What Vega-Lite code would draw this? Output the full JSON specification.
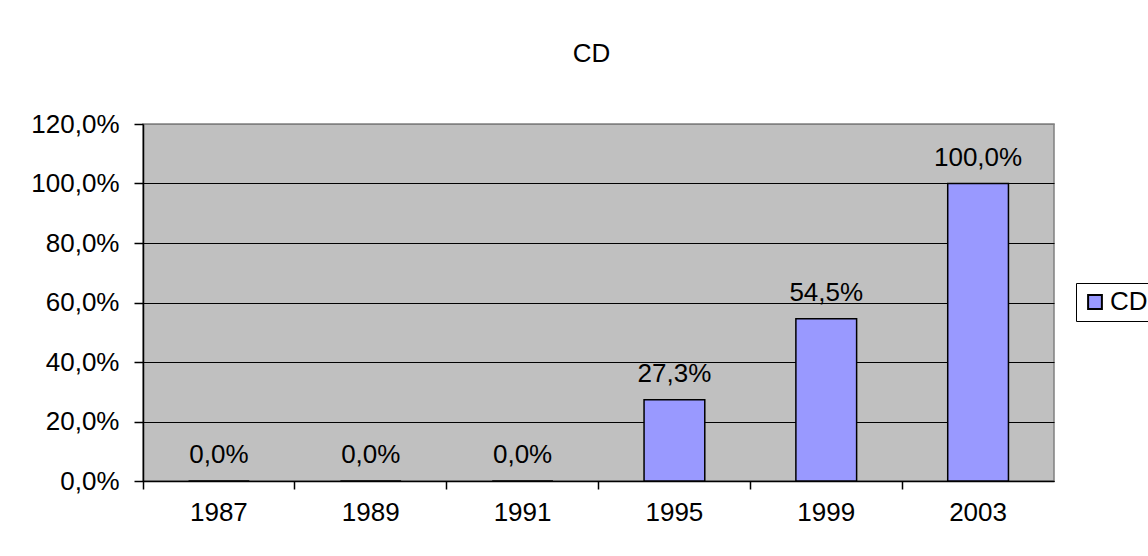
{
  "$schema": "https://vega.github.io/schema/vega-lite/v6.json",
  "width": 911,
  "height": 357,
  "autosize": "none",
  "padding": {"left": 143, "top": 124, "right": 94, "bottom": 75},
  "background": "white",
  "title": {"text": "CD", "fontSize": 26, "font": "Liberation Sans", "fontWeight": "normal", "color": "black", "anchor": "middle", "dx": -7, "offset": 44, "frame": "group"},
  "config": {
    "locale": {"number": {"decimal": ",", "thousands": ".", "grouping": [3], "currency": ["", " €"]}},
    "view": {"fill": "#C0C0C0", "stroke": "#808080", "strokeWidth": 1.5},
    "font": "Liberation Sans"
  },
  "data": {"values": [
    {"year": "1987", "value": 0, "series": "CD"},
    {"year": "1989", "value": 0, "series": "CD"},
    {"year": "1991", "value": 0, "series": "CD"},
    {"year": "1995", "value": 0.273, "series": "CD"},
    {"year": "1999", "value": 0.545, "series": "CD"},
    {"year": "2003", "value": 1.0, "series": "CD"}
  ]},
  "encoding": {
    "x": {"field": "year", "type": "nominal", "sort": null,
      "scale": {"paddingInner": 0, "paddingOuter": 0},
      "axis": {"title": null, "labelAngle": 0, "labelFontSize": 26, "labelColor": "black", "labelFont": "Liberation Sans",
        "bandPosition": 0, "tickSize": 8, "tickColor": "black", "tickWidth": 1.5, "domainColor": "black", "domainWidth": 1.5,
        "labelPadding": 10, "grid": false}},
    "y": {"field": "value", "type": "quantitative",
      "scale": {"domain": [0, 1.2], "nice": false},
      "axis": {"title": null, "values": [0, 0.2, 0.4, 0.6, 0.8, 1.0, 1.2], "format": ".1%",
        "labelFontSize": 26, "labelColor": "black", "labelFont": "Liberation Sans", "labelPadding": 15,
        "tickSize": 9, "tickColor": "black", "tickWidth": 1.5, "domainColor": "black", "domainWidth": 1.5,
        "grid": true, "gridWidth": 1.2,
        "gridColor": {"condition": {"test": "datum.value >= 1.2", "value": "#808080"}, "value": "black"}}}
  },
  "layer": [
    {
      "mark": {"type": "bar", "width": {"band": 0.4}, "stroke": "black", "strokeWidth": 1.5},
      "encoding": {
        "color": {"field": "series", "type": "nominal", "scale": {"range": ["#9999FF"]},
          "legend": {"title": null, "orient": "none", "legendX": 933, "legendY": 159,
            "strokeColor": "black", "fillColor": "white", "padding": 6,
            "symbolType": "square", "symbolSize": 190, "symbolStrokeColor": "black", "symbolStrokeWidth": 2, "symbolOpacity": 1,
            "labelFontSize": 26, "labelColor": "black", "labelFont": "Liberation Sans", "labelOffset": 2}}
      }
    },
    {
      "mark": {"type": "text", "baseline": "alphabetic", "dy": -18, "fontSize": 26, "font": "Liberation Sans", "color": "black"},
      "encoding": {"text": {"field": "value", "type": "quantitative", "format": ".1%"}}
    }
  ]
}
